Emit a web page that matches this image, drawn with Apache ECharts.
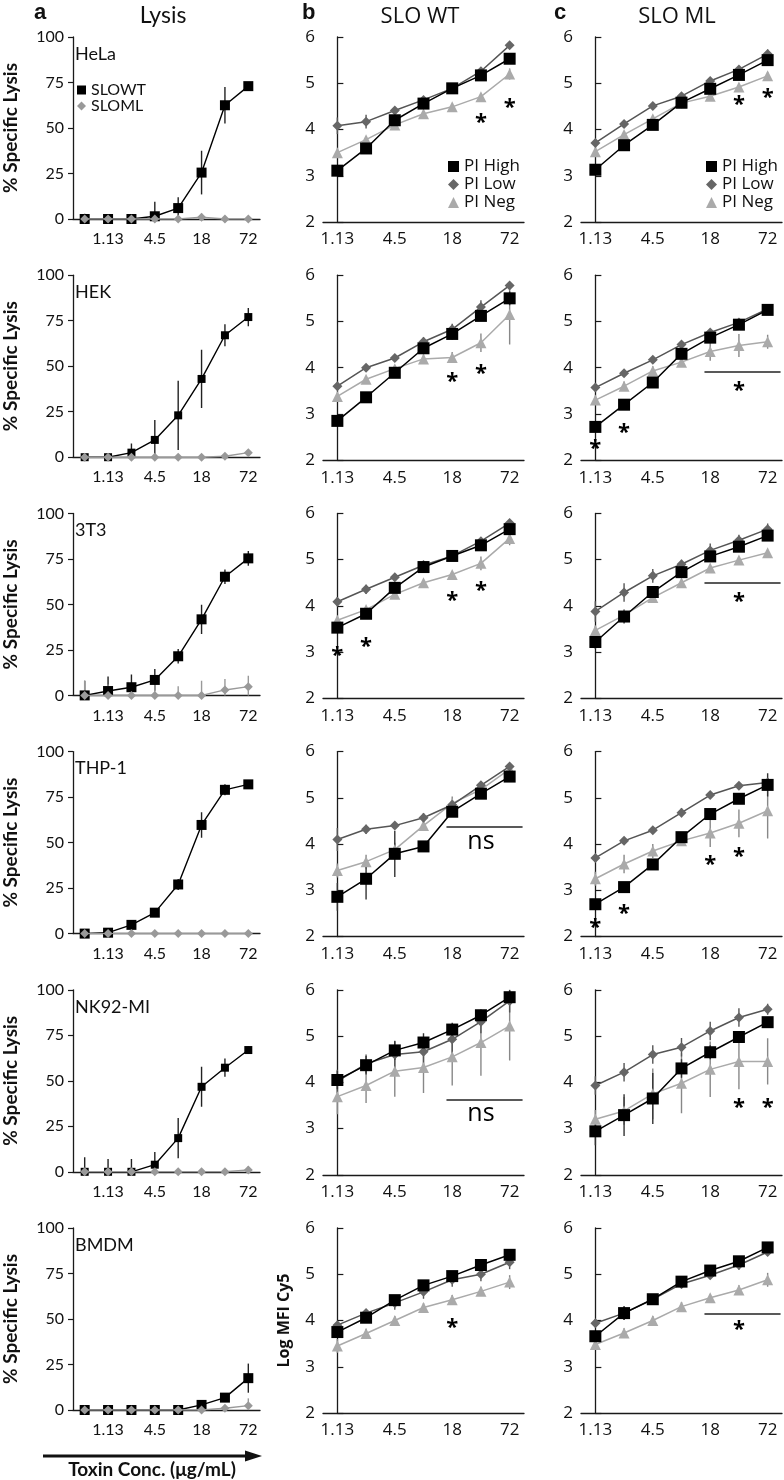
<!DOCTYPE html>
<html><head><meta charset="utf-8">
<script src="https://cdn.jsdelivr.net/npm/echarts/dist/echarts.min.js"></script>
<style>html,body{margin:0;padding:0;background:#fff}#c{width:784px;height:1480px}</style>
</head><body><div id="c"></div><script>
// ---------- categories ----------
const concA = ['0.56','1.13','2.25','4.5','9','18','36','72'];
const concBC = ['1.13','2.25','4.5','9','18','36','72'];
const cells = ['HeLa','HEK','3T3','THP-1','NK92-MI','BMDM'];
const yTicksA = [0, 100, 25];
const yTicksBC = [2, 6, 1];

// ---------- column a: % specific lysis ----------
const aWT_HeLa = [0,0,0,1.5,6,25.5,62.5,73];
const aWTe_HeLa = [2,1,1,8,6,12,10,2];
const aML_HeLa = [0,0,0,0,0,1,0,0];
const aMLe_HeLa = [3,1,1,1,1,2,1,1];
const aWT_HEK = [0,0,2.5,9.5,23,43,67,77];
const aWTe_HEK = [0,0,5,11,19,16,6,5];
const aML_HEK = [0,0,0,0,0,0,0.5,2.5];
const aMLe_HEK = [0,0,0,0,0,0,1,1.5];
const aWT_3T3 = [0,2.4,4.5,8.5,21.5,41.8,65.2,75.3];
const aWTe_3T3 = [8,8,7,6,4,8,4,4];
const aML_3T3 = [0,0,0,0,0,0,3,4.8];
const aMLe_3T3 = [8,6,6,6,5,8,6,6];
const aWT_THP1 = [0,0.5,4.8,11.5,27,59.7,79,82];
const aWTe_THP1 = [0,1,2,2,3,7,3,2];
const aML_THP1 = [0,0,0,0,0,0,0,0];
const aMLe_THP1 = [0,0,0,0,0,0,0,0];
const aWT_NK92 = [0,0,0,3.9,18.5,46.7,57.2,66.9];
const aWTe_NK92 = [8,7,7,7,11,11,5,2];
const aML_NK92 = [0,0,0,0,0,0,0,1];
const aMLe_NK92 = [0,0,0,0,0,0,0,2];
const aWT_BMDM = [0,0,0,0,0,2.8,6.8,17.5];
const aWTe_BMDM = [0,0,0,0,0,2,2,8];
const aML_BMDM = [0,0,0,0,0,0,1,2.4];
const aMLe_BMDM = [0,0,0,0,0,0,1,4];

// ---------- column b: SLO WT, Log MFI Cy5 ----------
const bHi_HeLa = [3.11,3.59,4.2,4.56,4.89,5.17,5.53];
const bHie_HeLa = [0.05,0.05,0.08,0.06,0.05,0.06,0.1];
const bLo_HeLa = [4.08,4.17,4.41,4.64,4.89,5.26,5.82];
const bLoe_HeLa = [0.18,0.15,0.05,0.05,0.05,0.05,0.05];
const bNeg_HeLa = [3.5,3.78,4.1,4.34,4.49,4.71,5.2];
const bNege_HeLa = [0.05,0.05,0.05,0.05,0.05,0.05,0.12];
const bHi_HEK = [2.85,3.36,3.89,4.42,4.73,5.12,5.5];
const bHie_HEK = [0.05,0.05,0.05,0.1,0.12,0.1,0.15];
const bLo_HEK = [3.6,4.0,4.21,4.56,4.83,5.31,5.78];
const bLoe_HEK = [0.05,0.05,0.05,0.1,0.12,0.15,0.05];
const bNeg_HEK = [3.38,3.75,3.98,4.19,4.22,4.54,5.15];
const bNege_HEK = [0.05,0.05,0.05,0.1,0.12,0.2,0.65];
const bHi_3T3 = [3.53,3.83,4.39,4.84,5.08,5.31,5.66];
const bHie_3T3 = [0.1,0.08,0.1,0.1,0.05,0.05,0.1];
const bLo_3T3 = [4.09,4.36,4.62,4.88,5.08,5.4,5.79];
const bLoe_3T3 = [0.1,0.1,0.05,0.1,0.05,0.05,0.05];
const bNeg_3T3 = [3.69,3.92,4.25,4.5,4.68,4.92,5.46];
const bNege_3T3 = [0.05,0.05,0.05,0.05,0.05,0.15,0.15];
const bHi_THP1 = [2.86,3.25,3.79,3.95,4.7,5.09,5.46];
const bHie_THP1 = [0.3,0.45,0.5,0.05,0.05,0.05,0.05];
const bLo_THP1 = [4.1,4.32,4.4,4.57,4.85,5.27,5.68];
const bLoe_THP1 = [0.25,0.1,0.05,0.1,0.05,0.05,0.05];
const bNeg_THP1 = [3.43,3.62,3.88,4.4,4.88,5.18,5.62];
const bNege_THP1 = [0.15,0.15,0.15,0.1,0.15,0.1,0.08];
const bHi_NK92 = [4.05,4.37,4.69,4.86,5.14,5.45,5.84];
const bHie_NK92 = [0.2,0.2,0.2,0.2,0.15,0.12,0.15];
const bLo_NK92 = [4.02,4.4,4.6,4.66,4.93,5.31,5.76];
const bLoe_NK92 = [0.25,0.2,0.3,0.3,0.3,0.25,0.25];
const bNeg_NK92 = [3.69,3.93,4.24,4.32,4.55,4.86,5.22];
const bNege_NK92 = [0.38,0.38,0.55,0.55,0.62,0.72,0.75];
const bHi_BMDM = [3.75,4.06,4.44,4.76,4.96,5.2,5.42];
const bHie_BMDM = [0.08,0.08,0.08,0.08,0.05,0.05,0.05];
const bLo_BMDM = [3.9,4.16,4.38,4.62,4.88,5.0,5.26];
const bLoe_BMDM = [0.05,0.05,0.15,0.15,0.15,0.15,0.15];
const bNeg_BMDM = [3.45,3.72,4.0,4.28,4.45,4.63,4.83];
const bNege_BMDM = [0.15,0.1,0.1,0.1,0.1,0.1,0.15];

// ---------- column c: SLO ML, Log MFI Cy5 ----------
const cHi_HeLa = [3.13,3.66,4.1,4.58,4.88,5.18,5.5];
const cHie_HeLa = [0.08,0.1,0.08,0.1,0.06,0.05,0.08];
const cLo_HeLa = [3.71,4.12,4.51,4.72,5.05,5.3,5.63];
const cLoe_HeLa = [0.05,0.05,0.05,0.05,0.05,0.05,0.1];
const cNeg_HeLa = [3.52,3.89,4.23,4.57,4.72,4.92,5.16];
const cNege_HeLa = [0.05,0.05,0.05,0.12,0.05,0.05,0.08];
const cHi_HEK = [2.72,3.2,3.68,4.3,4.65,4.93,5.25];
const cHie_HEK = [0.1,0.1,0.1,0.1,0.1,0.05,0.08];
const cLo_HEK = [3.57,3.88,4.17,4.5,4.76,4.98,5.27];
const cLoe_HEK = [0.08,0.05,0.05,0.05,0.05,0.05,0.05];
const cNeg_HEK = [3.3,3.6,3.93,4.12,4.35,4.48,4.56];
const cNege_HEK = [0.08,0.1,0.1,0.1,0.2,0.25,0.15];
const cHi_3T3 = [3.22,3.77,4.3,4.73,5.07,5.28,5.52];
const cHie_3T3 = [0.15,0.15,0.12,0.1,0.1,0.1,0.1];
const cLo_3T3 = [3.88,4.29,4.65,4.9,5.2,5.42,5.66];
const cLoe_3T3 = [0.22,0.2,0.15,0.1,0.15,0.12,0.12];
const cNeg_3T3 = [3.47,3.8,4.18,4.5,4.82,4.99,5.15];
const cNege_3T3 = [0.1,0.1,0.05,0.05,0.05,0.05,0.05];
const cHi_THP1 = [2.7,3.07,3.56,4.15,4.65,4.98,5.28];
const cHie_THP1 = [0.08,0.08,0.08,0.1,0.1,0.1,0.25];
const cLo_THP1 = [3.7,4.07,4.3,4.68,5.06,5.26,5.33];
const cLoe_THP1 = [0.05,0.05,0.05,0.1,0.05,0.05,0.1];
const cNeg_THP1 = [3.25,3.57,3.85,4.07,4.24,4.45,4.72];
const cNege_THP1 = [0.15,0.2,0.15,0.1,0.3,0.3,0.6];
const cHi_NK92 = [2.94,3.29,3.65,4.3,4.65,4.98,5.3];
const cHie_NK92 = [0.3,0.45,0.55,0.2,0.15,0.1,0.1];
const cLo_NK92 = [3.93,4.22,4.6,4.76,5.11,5.4,5.58];
const cLoe_NK92 = [0.2,0.2,0.2,0.2,0.2,0.2,0.12];
const cNeg_NK92 = [3.2,3.38,3.75,3.98,4.28,4.45,4.45];
const cNege_NK92 = [0.2,0.3,0.55,0.65,0.6,0.6,0.5];
const cHi_BMDM = [3.66,4.16,4.46,4.84,5.08,5.28,5.58];
const cHie_BMDM = [0.05,0.15,0.1,0.12,0.08,0.1,0.05];
const cLo_BMDM = [3.94,4.16,4.46,4.79,4.98,5.2,5.48];
const cLoe_BMDM = [0.05,0.15,0.1,0.1,0.08,0.1,0.05];
const cNeg_BMDM = [3.48,3.73,4.0,4.3,4.49,4.66,4.88];
const cNege_BMDM = [0.05,0.1,0.1,0.1,0.08,0.1,0.15];

// ---------- significance marks: [x index, y, text] and bars [x1, x2, y] ----------
const bMarks_HeLa = [[5,4.25,'*'],[6,4.58,'*']];
const cMarks_HeLa = [[5,4.65,'*'],[6,4.8,'*']];
const bMarks_HEK = [[4,3.8,'*'],[5,3.98,'*']];
const cMarks_HEK = [[0,2.35,'*'],[1,2.7,'*'],[5,3.6,'*']];
const cBar_HEK = [3.8,6.45,3.92];
const bMarks_3T3 = [[0,3.03,'*'],[1,3.23,'*'],[4,4.23,'*'],[5,4.44,'*']];
const cMarks_3T3 = [[5,4.19,'*']];
const cBar_3T3 = [3.8,6.45,4.5];
const bMarks_THP1 = [[5,4.05,'ns']];
const bBar_THP1 = [3.8,6.45,4.37];
const cMarks_THP1 = [[0,2.3,'*'],[1,2.6,'*'],[4,3.67,'*'],[5,3.83,'*']];
const bMarks_NK92 = [[5,3.32,'ns']];
const bBar_NK92 = [3.8,6.45,3.62];
const cMarks_NK92 = [[5,3.55,'*'],[6,3.55,'*']];
const bMarks_BMDM = [[4,3.96,'*']];
const cMarks_BMDM = [[5,3.9,'*']];
const cBar_BMDM = [3.8,6.45,4.14];

// ---------- assemble rows from the arrays ----------
const rowsA = [
  [aWT_HeLa,aWTe_HeLa,aML_HeLa,aMLe_HeLa],[aWT_HEK,aWTe_HEK,aML_HEK,aMLe_HEK],
  [aWT_3T3,aWTe_3T3,aML_3T3,aMLe_3T3],[aWT_THP1,aWTe_THP1,aML_THP1,aMLe_THP1],
  [aWT_NK92,aWTe_NK92,aML_NK92,aMLe_NK92],[aWT_BMDM,aWTe_BMDM,aML_BMDM,aMLe_BMDM]];
const rowsB = [
  [bHi_HeLa,bHie_HeLa,bLo_HeLa,bLoe_HeLa,bNeg_HeLa,bNege_HeLa,bMarks_HeLa,null],
  [bHi_HEK,bHie_HEK,bLo_HEK,bLoe_HEK,bNeg_HEK,bNege_HEK,bMarks_HEK,null],
  [bHi_3T3,bHie_3T3,bLo_3T3,bLoe_3T3,bNeg_3T3,bNege_3T3,bMarks_3T3,null],
  [bHi_THP1,bHie_THP1,bLo_THP1,bLoe_THP1,bNeg_THP1,bNege_THP1,bMarks_THP1,bBar_THP1],
  [bHi_NK92,bHie_NK92,bLo_NK92,bLoe_NK92,bNeg_NK92,bNege_NK92,bMarks_NK92,bBar_NK92],
  [bHi_BMDM,bHie_BMDM,bLo_BMDM,bLoe_BMDM,bNeg_BMDM,bNege_BMDM,bMarks_BMDM,null]];
const rowsC = [
  [cHi_HeLa,cHie_HeLa,cLo_HeLa,cLoe_HeLa,cNeg_HeLa,cNege_HeLa,cMarks_HeLa,null],
  [cHi_HEK,cHie_HEK,cLo_HEK,cLoe_HEK,cNeg_HEK,cNege_HEK,cMarks_HEK,cBar_HEK],
  [cHi_3T3,cHie_3T3,cLo_3T3,cLoe_3T3,cNeg_3T3,cNege_3T3,cMarks_3T3,cBar_3T3],
  [cHi_THP1,cHie_THP1,cLo_THP1,cLoe_THP1,cNeg_THP1,cNege_THP1,cMarks_THP1,null],
  [cHi_NK92,cHie_NK92,cLo_NK92,cLoe_NK92,cNeg_NK92,cNege_NK92,cMarks_NK92,null],
  [cHi_BMDM,cHie_BMDM,cLo_BMDM,cLoe_BMDM,cNeg_BMDM,cNege_BMDM,cMarks_BMDM,cBar_BMDM]];

// ---------- layout ----------
const ROW_TOP = 37, ROW_PITCH = 238.2;
const AX = '#1a1a1a';
const fontA = 'Lato, "Liberation Sans", sans-serif';
const fontB = '"Open Sans", "Noto Sans", sans-serif';
const grids = [], xAxes = [], yAxes = [], series = [], graphics = [];

function errSeries(xi, yi, vals, errs, color) {
  return {
    type: 'custom', xAxisIndex: xi, yAxisIndex: yi, clip: true, z: 2, silent: true,
    data: vals.map((v, i) => [i, v, errs[i]]),
    renderItem: (params, api) => {
      const x = api.value(0), y = api.value(1), e = api.value(2);
      if (!e) return null;
      const p1 = api.coord([x, y - e]), p2 = api.coord([x, y + e]);
      return { type: 'line', shape: { x1: p1[0], y1: p1[1], x2: p2[0], y2: p2[1] },
               style: { stroke: color, lineWidth: 1.4 } };
    }
  };
}

for (let r = 0; r < 6; r++) {
  const top = ROW_TOP + r * ROW_PITCH;
  // ---- column a ----
  let g = grids.length;
  grids.push({ left: 73, top: top, width: 187, height: 182, containLabel: false, outerBoundsMode: 'none' });
  let xi = xAxes.length;
  xAxes.push({ type: 'category', gridIndex: g, data: concA, boundaryGap: true, position: 'bottom',
    axisLine: { lineStyle: { color: AX, width: 1.3 } },
    axisTick: { interval: 0, inside: true, length: 5, lineStyle: { color: AX, width: 1.2 } },
    axisLabel: { interval: (i) => i % 2 === 1, color: '#111', fontSize: 16, fontFamily: fontA, margin: 12 },
    splitLine: { show: false } });
  xAxes.push({ type: 'category', gridIndex: g, data: concA, boundaryGap: true, position: 'bottom',
    axisLine: { show: false },
    axisTick: { interval: 0, alignWithLabel: true, inside: true, length: 5, lineStyle: { color: AX, width: 1.2 } },
    axisLabel: { show: false }, splitLine: { show: false } });
  let yi = yAxes.length;
  yAxes.push({ type: 'value', gridIndex: g, min: yTicksA[0], max: yTicksA[1], interval: yTicksA[2],
    axisLine: { show: true, lineStyle: { color: AX, width: 1.3 } },
    axisTick: { show: true, length: 5, lineStyle: { color: AX, width: 1.2 } },
    axisLabel: { color: '#111', fontSize: 16, fontFamily: fontA, margin: 9 },
    splitLine: { show: false },
    name: '% Specific Lysis', nameLocation: 'middle', nameGap: 53,
    nameTextStyle: { color: '#111', fontSize: 19, fontWeight: 'bold', fontFamily: fontA } });
  const A = rowsA[r];
  series.push(errSeries(xi, yi, A[0], A[1], '#222'));
  series.push(errSeries(xi, yi, A[2], A[3], '#999'));
  series.push({ type: 'line', name: 'SLOWT', xAxisIndex: xi, yAxisIndex: yi, data: A[0],
    symbol: 'rect', symbolSize: r === 1 || r === 4 ? 8 : 10, z: 3, silent: true,
    itemStyle: { color: '#000' }, lineStyle: { color: '#000', width: 1.4 } });
  series.push({ type: 'line', name: 'SLOML', xAxisIndex: xi, yAxisIndex: yi, data: A[2],
    symbol: 'diamond', symbolSize: 9, z: 4, silent: true,
    itemStyle: { color: '#999' }, lineStyle: { color: '#999', width: 1.4 } });
  graphics.push({ type: 'text', left: 75, top: top + 8,
    style: { text: cells[r], fontSize: 18, fontFamily: fontA, fill: '#111' } });

  // ---- columns b & c ----
  [[rowsB[r], 323], [rowsC[r], 581]].forEach(([D, left], ci) => {
    g = grids.length;
    grids.push({ left: left, top: top, width: 201, height: 185, containLabel: false, outerBoundsMode: 'none' });
    xi = xAxes.length;
    xAxes.push({ type: 'category', gridIndex: g, data: concBC, boundaryGap: true, position: 'bottom',
      axisLine: { lineStyle: { color: AX, width: 1.3 } },
      axisTick: { interval: 0, inside: true, length: 6, lineStyle: { color: AX, width: 1.2 } },
      axisLabel: { interval: 1, color: '#111', fontSize: 17, fontFamily: fontB, margin: 9 },
      splitLine: { show: false } });
    const xv = xAxes.length;
    xAxes.push({ type: 'value', gridIndex: g, min: -0.5, max: 6.5, show: false, splitLine: { show: false } });
    yi = yAxes.length;
    const ya = { type: 'value', gridIndex: g, min: yTicksBC[0], max: yTicksBC[1], interval: yTicksBC[2],
      axisLine: { show: true, lineStyle: { color: AX, width: 1.3 } },
      axisTick: { show: true, inside: true, length: 6, lineStyle: { color: AX, width: 1.2 } },
      axisLabel: { color: '#111', fontSize: 17, fontFamily: fontB, margin: 8 },
      splitLine: { show: false } };
    if (r === 5 && ci === 0) {
      ya.name = 'Log MFI Cy5'; ya.nameLocation = 'middle'; ya.nameGap = 31;
      ya.nameTextStyle = { color: '#111', fontSize: 16, fontWeight: 'bold', fontFamily: fontB };
    }
    yAxes.push(ya);
    series.push(errSeries(xi, yi, D[4], D[5], '#888'));
    series.push(errSeries(xi, yi, D[2], D[3], '#555'));
    series.push(errSeries(xi, yi, D[0], D[1], '#333'));
    series.push({ type: 'line', name: 'PI Neg', xAxisIndex: xi, yAxisIndex: yi, data: D[4],
      symbol: 'triangle', symbolSize: 11, z: 3, silent: true,
      itemStyle: { color: '#aaa' }, lineStyle: { color: '#aaa', width: 1.5 } });
    series.push({ type: 'line', name: 'PI Low', xAxisIndex: xi, yAxisIndex: yi, data: D[2],
      symbol: 'diamond', symbolSize: 10, z: 4, silent: true,
      itemStyle: { color: '#666' }, lineStyle: { color: '#555', width: 1.5 } });
    series.push({ type: 'line', name: 'PI High', xAxisIndex: xi, yAxisIndex: yi, data: D[0],
      symbol: 'rect', symbolSize: 12, z: 5, silent: true,
      itemStyle: { color: '#000' }, lineStyle: { color: '#000', width: 1.5 } });
    const marks = {
      type: 'scatter', name: 'marks', xAxisIndex: xv, yAxisIndex: yi, silent: true, z: 6,
      symbol: 'circle', symbolSize: 2,
      itemStyle: { color: 'rgba(255,255,255,0)' },
      label: { show: true, position: 'inside', formatter: (p) => p.value[2],
        fontFamily: fontB, color: '#000', fontSize: 21, opacity: 1, textBorderWidth: 0 },
      data: D[6].map(m => ({ value: m,
        label: m[2] === 'ns' ? { fontSize: 25, color: '#000', textBorderWidth: 0, offset: [0, 0] }
                             : { fontSize: 22, color: '#000', textBorderWidth: 0, fontWeight: 'bold', offset: [0, 5] } }))
    };
    if (D[7]) {
      marks.markLine = { silent: true, symbol: 'none', label: { show: false },
        lineStyle: { color: '#222', width: 1.5, type: 'solid' },
        data: [[{ coord: [D[7][0], D[7][2]] }, { coord: [D[7][1], D[7][2]] }]] };
    }
    series.push(marks);
  });
}

// ---------- headers and bottom arrow ----------
graphics.push(
  { type: 'text', left: 34, top: 2, style: { text: 'a', fontSize: 22, fontWeight: 'bold', fontFamily: '"Liberation Sans", sans-serif', fill: '#111' } },
  { type: 'text', x: 163, y: 16, style: { text: 'Lysis', fontSize: 23, fontFamily: fontA, fill: '#111', align: 'center', verticalAlign: 'middle' } },
  { type: 'text', left: 302, top: 2, style: { text: 'b', fontSize: 22, fontWeight: 'bold', fontFamily: '"Liberation Sans", sans-serif', fill: '#111' } },
  { type: 'text', x: 420, y: 17, style: { text: 'SLO WT', fontSize: 22, fontFamily: fontB, fill: '#111', align: 'center', verticalAlign: 'middle' } },
  { type: 'text', left: 554, top: 2, style: { text: 'c', fontSize: 22, fontWeight: 'bold', fontFamily: '"Liberation Sans", sans-serif', fill: '#111' } },
  { type: 'text', x: 677, y: 17, style: { text: 'SLO ML', fontSize: 22, fontFamily: fontB, fill: '#111', align: 'center', verticalAlign: 'middle' } },
  { type: 'line', shape: { x1: 43, y1: 1456, x2: 250, y2: 1456 }, style: { stroke: '#111', lineWidth: 3 } },
  { type: 'polygon', shape: { points: [[245, 1450.5], [262, 1456], [245, 1461.5]] }, style: { fill: '#111' } },
  { type: 'text', x: 152, y: 1470, style: { text: 'Toxin Conc. (\u03bcg/mL)', fontSize: 19, fontWeight: 'bold', fontFamily: fontA, fill: '#111', align: 'center', verticalAlign: 'middle' } }
);

const option = {
  animation: false,
  backgroundColor: '#fff',
  grid: grids, xAxis: xAxes, yAxis: yAxes, series: series,
  legend: [
    { left: 72, top: 77, orient: 'vertical', itemWidth: 9, itemHeight: 9, itemGap: 0,
      selectedMode: false,
      textStyle: { fontSize: 16, fontFamily: fontA, color: '#111', lineHeight: 14 },
      data: [{ name: 'SLOWT', icon: 'rect' }, { name: 'SLOML', icon: 'diamond' }] },
    { left: 443, top: 153, orient: 'vertical', itemWidth: 11, itemHeight: 11, itemGap: 1,
      selectedMode: false,
      textStyle: { fontSize: 17, fontFamily: fontB, color: '#111', lineHeight: 17 },
      data: [{ name: 'PI High', icon: 'rect' }, { name: 'PI Low', icon: 'diamond' }, { name: 'PI Neg', icon: 'triangle' }] },
    { left: 701, top: 153, orient: 'vertical', itemWidth: 11, itemHeight: 11, itemGap: 1,
      selectedMode: false,
      textStyle: { fontSize: 17, fontFamily: fontB, color: '#111', lineHeight: 17 },
      data: [{ name: 'PI High', icon: 'rect' }, { name: 'PI Low', icon: 'diamond' }, { name: 'PI Neg', icon: 'triangle' }] }
  ],
  graphic: graphics
};
const chart = echarts.init(document.getElementById('c'), null, { renderer: 'canvas' });
chart.setOption(option);
</script></body></html>
